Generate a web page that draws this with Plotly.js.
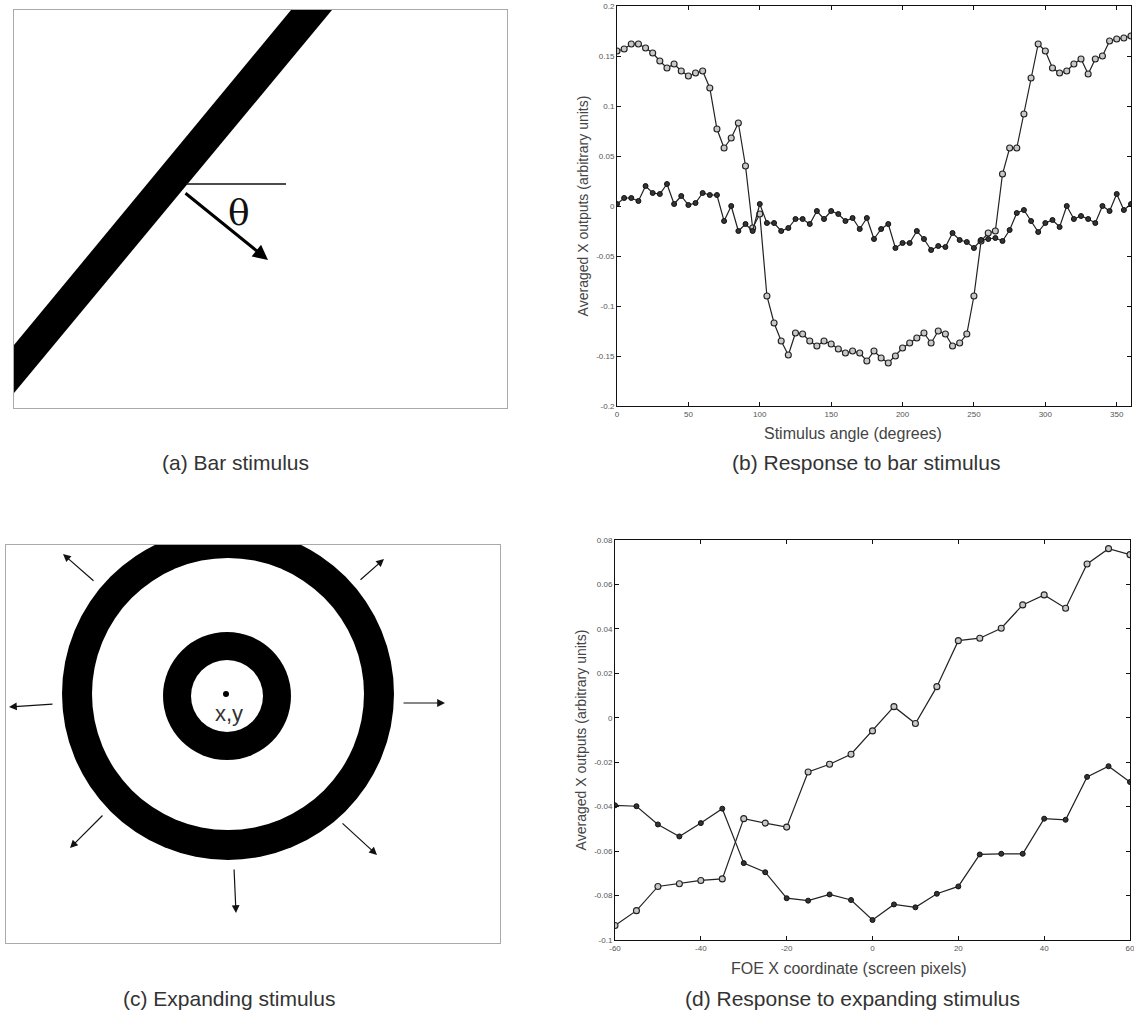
<!DOCTYPE html>
<html>
<head>
<meta charset="utf-8">
<script src="https://cdn.plot.ly/plotly-3.0.1.min.js"></script>
<style>html,body{margin:0;padding:0;background:#fff;}#chart{width:1134px;height:1015px;}</style>
</head>
<body>
<div id="chart"></div>
<script>
// ---- Panel (b) data: response to bar stimulus ----
var anglesB = [0,5,10,15,20,25,30,35,40,45,50,55,60,65,70,75,80,85,90,95,100,105,110,115,120,125,130,135,140,145,150,155,160,165,170,175,180,185,190,195,200,205,210,215,220,225,230,235,240,245,250,255,260,265,270,275,280,285,290,295,300,305,310,315,320,325,330,335,340,345,350,355,360];
var upperB = [0.155,0.157,0.162,0.162,0.158,0.153,0.145,0.138,0.142,0.135,0.130,0.133,0.135,0.118,0.077,0.058,0.068,0.083,0.040,-0.022,-0.008,-0.090,-0.117,-0.135,-0.149,-0.127,-0.128,-0.135,-0.140,-0.135,-0.138,-0.143,-0.147,-0.145,-0.147,-0.155,-0.145,-0.152,-0.157,-0.150,-0.142,-0.137,-0.132,-0.127,-0.137,-0.125,-0.128,-0.140,-0.137,-0.128,-0.090,-0.035,-0.027,-0.025,0.032,0.058,0.058,0.092,0.128,0.162,0.155,0.138,0.133,0.135,0.142,0.147,0.132,0.147,0.150,0.165,0.167,0.168,0.170];
var lowerB = [0.002,0.008,0.008,0.005,0.020,0.013,0.012,0.022,0.002,0.010,0.001,0.003,0.013,0.011,0.011,-0.015,0.000,-0.025,-0.018,-0.025,0.002,-0.017,-0.017,-0.025,-0.022,-0.013,-0.013,-0.018,-0.005,-0.013,-0.005,-0.008,-0.015,-0.012,-0.023,-0.012,-0.033,-0.023,-0.018,-0.042,-0.037,-0.037,-0.025,-0.033,-0.044,-0.040,-0.041,-0.027,-0.034,-0.036,-0.042,-0.034,-0.033,-0.032,-0.035,-0.024,-0.007,-0.004,-0.015,-0.026,-0.017,-0.014,-0.021,0.000,-0.013,-0.010,-0.013,-0.017,0.000,-0.005,0.012,-0.004,0.002];
var ticksBx = [0,50,100,150,200,250,300,350];
var ticksBy = [-0.2,-0.15,-0.1,-0.05,0,0.05,0.1,0.15,0.2];
var tickTextBy = ['-0.2','-0.15','-0.1','-0.05','0','0.05','0.1','0.15','0.2'];

// ---- Panel (d) data: response to expanding stimulus ----
var foeX = [-60,-55,-50,-45,-40,-35,-30,-25,-20,-15,-10,-5,0,5,10,15,20,25,30,35,40,45,50,55,60];
var upperD = [-0.0935,-0.0868,-0.0759,-0.0747,-0.0732,-0.0725,-0.0454,-0.0474,-0.0492,-0.0244,-0.0209,-0.0164,-0.0059,0.0050,-0.0026,0.0140,0.0347,0.0358,0.0403,0.0508,0.0553,0.0493,0.0692,0.0761,0.0734];
var lowerD = [-0.0394,-0.0398,-0.0480,-0.0534,-0.0474,-0.0409,-0.0654,-0.0695,-0.0812,-0.0823,-0.0795,-0.0820,-0.0910,-0.0840,-0.0853,-0.0792,-0.0759,-0.0615,-0.0612,-0.0612,-0.0454,-0.0459,-0.0266,-0.0218,-0.0289];
var ticksDx = [-60,-40,-20,0,20,40,60];
var tickTextDx = ['-60','-40','-20','0','20','40','60'];
var ticksDy = [-0.1,-0.08,-0.06,-0.04,-0.02,0,0.02,0.04,0.06,0.08];
var tickTextDy = ['-0.1','-0.08','-0.06','-0.04','-0.02','0','0.02','0.04','0.06','0.08'];

// ---- Text ----
var captions = ['(a) Bar stimulus','(b) Response to bar stimulus','(c) Expanding stimulus','(d) Response to expanding stimulus'];
var xTitleB = 'Stimulus angle (degrees)';
var xTitleD = 'FOE X coordinate (screen pixels)';
var yTitle = 'Averaged X outputs (arbitrary units)';

var W = 1134, H = 1015;
function fx(px){return px/W;}
function fy(py){return 1-py/H;}

var lineCol = '#222';
var openMarker = {symbol:'circle', size:6, color:'#c8c8c8', line:{color:'#222', width:1.1}};
var fillMarker = {symbol:'circle', size:5, color:'#333', line:{color:'#111', width:1}};

var traces = [
  {x:anglesB, y:upperB, xaxis:'x', yaxis:'y', mode:'lines+markers', line:{color:lineCol,width:1.2}, marker:openMarker},
  {x:anglesB, y:lowerB, xaxis:'x', yaxis:'y', mode:'lines+markers', line:{color:lineCol,width:1.2}, marker:fillMarker},
  {x:foeX, y:upperD, xaxis:'x2', yaxis:'y2', mode:'lines+markers', line:{color:lineCol,width:1.2}, marker:openMarker},
  {x:foeX, y:lowerD, xaxis:'x2', yaxis:'y2', mode:'lines+markers', line:{color:lineCol,width:1.2}, marker:fillMarker},
  {x:[], y:[], xaxis:'x3', yaxis:'y3', mode:'markers'},
  {x:[], y:[], xaxis:'x4', yaxis:'y4', mode:'markers'}
];

var sans = 'Liberation Sans, Arial, sans-serif';
var tickFont = {family:sans, size:8, color:'#555'};
var yTitleFont = {family:sans, size:14, color:'#444'};
var xTitleFont = {family:sans, size:16, color:'#444'};
var capFont = {family:sans, size:21, color:'#333'};

function dataAxis(domain, range, tickvals, ticktext, anchor, title){
  var a = {domain:domain, range:range, autorange:false, anchor:anchor, showgrid:false, zeroline:false,
    showline:true, linecolor:'#111', linewidth:1, mirror:'ticks', ticks:'inside', ticklen:4, tickcolor:'#111',
    tickvals:tickvals, tickfont:tickFont, ticklabeloverflow:'allow', fixedrange:true};
  if (ticktext) a.ticktext = ticktext;
  if (title) a.title = {text:title, font:yTitleFont, standoff:4};
  return a;
}
function plainAxis(domain, range, anchor){
  return {domain:domain, range:range, autorange:false, anchor:anchor, showgrid:false, zeroline:false,
    showline:true, linecolor:'#aaa', linewidth:1, mirror:true, ticks:'', showticklabels:false, fixedrange:true};
}
function txt(x, y, t, font){
  return {xref:'paper', yref:'paper', x:fx(x), y:fy(y), xanchor:'center', yanchor:'middle', text:t, showarrow:false, font:font};
}
function arrowC(x, y, ax, ay){
  return {xref:'x4', yref:'y4', axref:'x4', ayref:'y4', x:x, y:y, ax:ax, ay:ay, text:'', showarrow:true,
    arrowhead:2, arrowsize:1.3, arrowwidth:1.2, arrowcolor:'#111'};
}

var layout = {
  width:W, height:H, margin:{l:0,r:0,t:0,b:0}, paper_bgcolor:'#fff', plot_bgcolor:'#fff', showlegend:false,
  xaxis: dataAxis([fx(617),fx(1131)], [0,360], ticksBx, null, 'y', null),
  yaxis: dataAxis([fy(406),fy(6)], [-0.2,0.2], ticksBy, tickTextBy, 'x', yTitle),
  xaxis2: dataAxis([fx(615),fx(1130)], [-60.0001,60.0001], ticksDx, tickTextDx, 'y2', null),
  yaxis2: dataAxis([fy(940),fy(540)], [-0.1,0.08], ticksDy, tickTextDy, 'x2', yTitle),
  xaxis3: plainAxis([fx(14),fx(507)], [14,507], 'y3'),
  yaxis3: plainAxis([fy(408),fy(10)], [408,10], 'x3'),
  xaxis4: plainAxis([fx(6),fx(500)], [6,500], 'y4'),
  yaxis4: plainAxis([fy(943),fy(545)], [943,545], 'x4'),
  shapes: [
    {type:'path', xref:'x3', yref:'y3', path:'M 14,345 L 291,10 L 332,10 L 14,393 Z', fillcolor:'#000', line:{width:0}},
    {type:'line', xref:'x3', yref:'y3', x0:186, y0:184, x1:286, y1:184, line:{color:'#111', width:1.6}},
    {type:'circle', xref:'x4', yref:'y4', x0:228-166, x1:228+166, y0:694-166, y1:694+166, fillcolor:'#000', line:{width:0}},
    {type:'circle', xref:'x4', yref:'y4', x0:228-136, x1:228+136, y0:694-136, y1:694+136, fillcolor:'#fff', line:{width:0}},
    {type:'circle', xref:'x4', yref:'y4', x0:227-64, x1:227+64, y0:696-64, y1:696+64, fillcolor:'#000', line:{width:0}},
    {type:'circle', xref:'x4', yref:'y4', x0:227-36, x1:227+36, y0:696-36, y1:696+36, fillcolor:'#fff', line:{width:0}},
    {type:'circle', xref:'x4', yref:'y4', x0:223, x1:229, y0:691, y1:697, fillcolor:'#000', line:{width:0}}
  ],
  annotations: [
    txt(235, 462, captions[0], capFont),
    txt(866, 462, captions[1], capFont),
    txt(229, 998, captions[2], capFont),
    txt(852, 998, captions[3], capFont),
    txt(853, 434, xTitleB, xTitleFont),
    txt(849, 968, xTitleD, xTitleFont),
    {xref:'x3', yref:'y3', x:239, y:212, text:'θ', showarrow:false, font:{family:'DejaVu Serif, Liberation Serif, serif', size:36, color:'#111'}},
    {xref:'x3', yref:'y3', axref:'x3', ayref:'y3', x:268, y:260, ax:184, ay:192, text:'', showarrow:true, arrowhead:2, arrowsize:1, arrowwidth:3, arrowcolor:'#000'},
    {xref:'x4', yref:'y4', x:229, y:713, text:'x,y', showarrow:false, font:{family:sans, size:22, color:'#333'}},
    arrowC(63, 554, 95, 582),
    arrowC(384, 559, 359, 581),
    arrowC(9, 707, 54, 704),
    arrowC(445, 703, 402, 703),
    arrowC(70, 848, 104, 814),
    arrowC(377, 855, 341, 822),
    arrowC(236, 913, 234, 868)
  ]
};

Plotly.newPlot('chart', traces, layout, {staticPlot:true, displayModeBar:false});
</script>
</body>
</html>
